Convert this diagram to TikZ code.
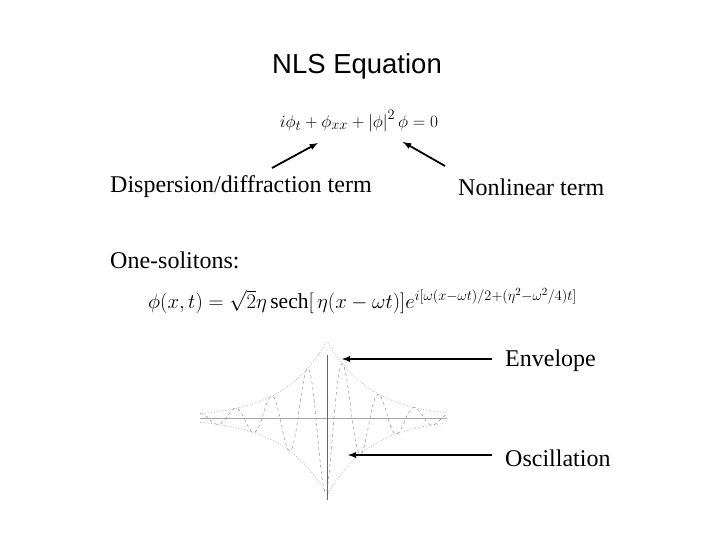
\documentclass[tikz,border=0pt]{standalone}
\usepackage{fontspec}
\setmainfont{Liberation Serif}
\newfontfamily\arial{Liberation Sans}
\begin{document}
\begin{tikzpicture}[x=1pt,y=-1pt,
  lbl/.style={font=\fontsize{24}{27}\selectfont,inner sep=0pt},
  arr/.style={line width=1.8pt,-latex}]
\useasboundingbox (0,0) rectangle (720,540);
\node[font=\arial\fontsize{27.5}{30}\selectfont,inner sep=0pt] (title) at (357,66) {NLS Equation};
\node[inner sep=0pt,font=\fontsize{19}{21}\selectfont] (eq) at (359,121) {$i\phi_t+\phi_{xx}+\left|\phi\right|^2\phi=0$};
\node[lbl,anchor=west] (disp) at (110,187) {Dispersion/diffraction term};
\node[lbl,anchor=west] (nl) at (458,187) {Nonlinear term};
\coordinate (a1) at (272,168); \coordinate (b1) at (318,143);
\coordinate (a2) at (445,166); \coordinate (b2) at (403,142);
\draw[arr] (a1) -- (b1);
\draw[arr] (a2) -- (b2);
\node[lbl,anchor=west] (one) at (110,260) {One-solitons:};
\node[inner sep=0pt,anchor=west,font=\fontsize{21.5}{24}\selectfont] (sol) at (148,301)
 {$\phi(x,t)=\sqrt{2}\eta\,\mathrm{sech}[\,\eta(x-\omega t)]e^{i[\omega(x-\omega t)/2+(\eta^2-\omega^2/4)t]}$};
% wave
\draw[gray!70] (200,418) -- (447,418);
\draw[gray!80!black] (327,355) -- (327,500);
\draw[gray!60,dotted,thick,domain=-127:120,samples=150]
  plot (\x+327,{418-77*exp(-abs(\x)/44)});
\draw[gray!60,dotted,thick,domain=-127:120,samples=150]
  plot (\x+327,{418+77*exp(-abs(\x)/44)});
\draw[gray,dashed,domain=-127:120,samples=300]
  plot (\x+327,{418+77*cos(10*(\x+2))*exp(-abs(\x)/44)});
\node[lbl,anchor=west] (env) at (505,361) {Envelope};
\node[lbl,anchor=west] (osc) at (505,458) {Oscillation};
\coordinate (e1) at (492,359); \coordinate (e2) at (342,359);
\coordinate (o1) at (492,455); \coordinate (o2) at (348,455);
\draw[arr] (e1) -- (e2);
\draw[arr] (o1) -- (o2);
\end{tikzpicture}
\end{document}
